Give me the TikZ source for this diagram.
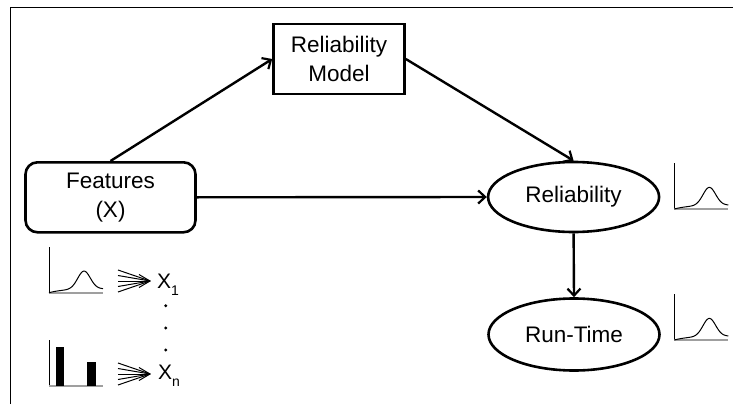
\documentclass[tikz,border=0pt]{standalone}
\usepackage{fontspec}
\setmainfont{Liberation Sans}
\usetikzlibrary{arrows.meta,shapes.geometric}
\begin{document}
\begin{tikzpicture}[x=1pt,y=-1pt,
  box/.style={draw,line width=2.6pt,inner sep=0pt,align=center,font=\fontsize{22.5}{29}\selectfont},
  oval/.style={ellipse,draw,line width=2.6pt,inner sep=0pt,font=\fontsize{22.5}{27}\selectfont},
  conn/.style={line width=2.4pt,-{Straight Barb[length=7pt,width=13pt,line width=2.2pt]}},
  axisy/.style={line width=1pt},
  axisx/.style={line width=1.8pt,gray!75},
  curve/.style={line width=1pt},
  fan/.style={line width=1pt},
  lbl/.style={inner sep=0pt,anchor=west,font=\fontsize{21}{24}\selectfont},
  bell/.pic={
    \draw[axisy] (0,0) -- (0,-46);
    \draw[axisx] (0,0) -- (54,0);
    \draw[curve,domain=0:54,samples=70,smooth] plot (\x,{-(18*exp(-((\x-35)*(\x-35))/80)+4*(1-exp(-\x/15)))});
  },
  fanarrow/.pic={
    \foreach \d in {-11,-5.5,0,5.5,11} \draw[fan] (0,\d) -- (32,0);
    \draw[fan] (21,-6.5) -- (32,0) -- (21,6.5);
  }
]
\useasboundingbox (0,0) rectangle (733,404);
% frame
\draw[line width=1.6pt] (10.5,404) -- (10.5,7.5) -- (733,7.5);

% nodes
\node[box,minimum width=131pt,minimum height=70pt] (model) at (339,59) {Reliability\\Model};
\node[box,rounded corners=12pt,minimum width=170pt,minimum height=70pt] (feat) at (110.5,197.3) {Features\\(X)};
\node[oval,minimum width=171pt,minimum height=70pt] (rel) at (573.6,197) {Reliability};
\node[oval,minimum width=171pt,minimum height=72pt] (run) at (574,334.5) {Run-Time};

% connectors
\draw[conn] (feat.north) -- (model.west);
\draw[conn] (model.east) -- (rel.north);
\draw[conn] (feat.east) -- (rel.west);
\draw[conn] (rel.south) -- (run.north);

% distributions right
\pic at (674.3,209) {bell};
\pic at (674.3,340) {bell};

% left distributions
\pic at (49,292.7) {bell};
\draw[axisy] (49,386) -- (49,340);
\draw[axisx] (49,386) -- (102.7,386);
\fill (55.7,347) rectangle (64,386);
\fill (87.3,362) rectangle (96,386);

% fan arrows and labels
\pic at (118,281) {fanarrow};
\pic at (118,374) {fanarrow};
\node[lbl] (x1) at (157,285) {X\raisebox{-0.32em}{\fontsize{14}{15}\selectfont 1}};
\node[lbl] (xn) at (158,376) {X\raisebox{-0.32em}{\fontsize{14}{15}\selectfont n}};
\fill (165.7,305.7) circle (1.6);
\fill (165.7,328) circle (1.6);
\fill (165.7,350) circle (1.6);
\end{tikzpicture}
\end{document}
